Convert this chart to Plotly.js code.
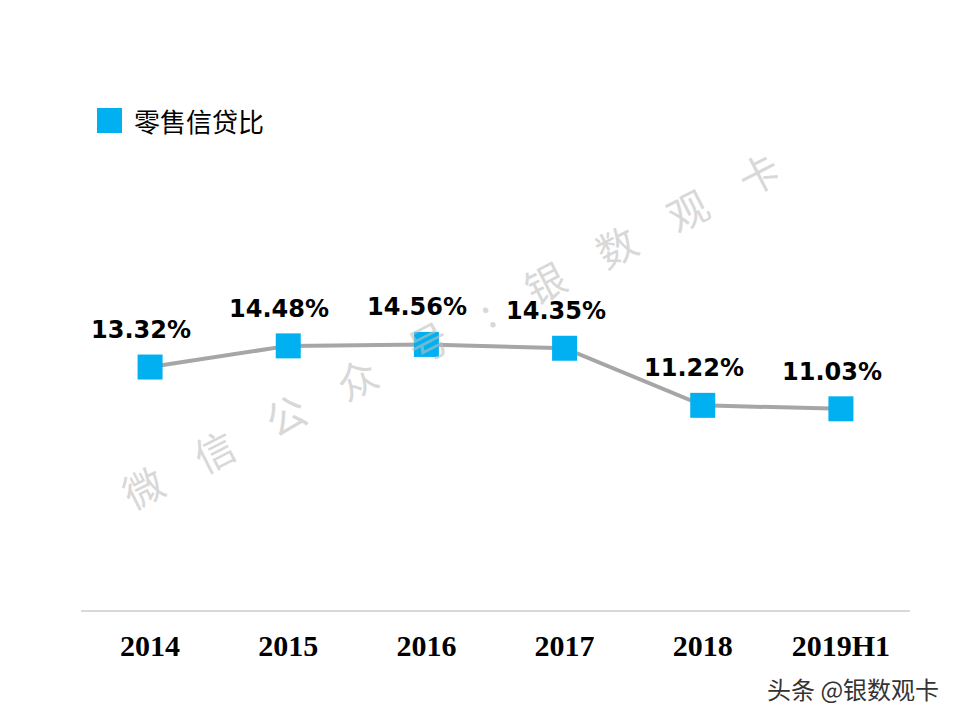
<!DOCTYPE html>
<html>
<head>
<meta charset="utf-8">
<script src="https://cdn.plot.ly/plotly-3.0.1.min.js"></script>
<style>html,body{margin:0;padding:0;background:#fff;}#chart{width:960px;height:720px;}</style>
</head>
<body>
<div id="chart"></div>
<script>
var categories = ['2014', '2015', '2016', '2017', '2018', '2019H1'];
var retailLoanRatio = [13.32, 14.48, 14.56, 14.35, 11.22, 11.03];
var seriesName = '零售信贷比';

var labelFont = {family: '"DejaVu Sans", Verdana, sans-serif', size: 24, color: '#000', weight: 'bold'};

var annotations = categories.map(function (c, i) {
  return {
    x: i, y: retailLoanRatio[i], xref: 'x', yref: 'y',
    text: retailLoanRatio[i].toFixed(2) + '%',
    showarrow: false, yanchor: 'bottom', xanchor: 'center',
    yshift: 21, xshift: -9,
    font: labelFont
  };
});

// watermark
annotations.push({
  x: 450, y: 330, xref: 'paper', yref: 'paper',
  text: '微\u3000信\u3000公\u3000众\u3000号\u3000:\u3000银\u3000数\u3000观\u3000卡',
  showarrow: false, textangle: -27,
  font: {family: '"Noto Sans CJK SC", sans-serif', size: 40, color: 'rgba(190,190,190,0.6)'}
});
// legend text
annotations.push({
  x: 132, y: 121, xref: 'paper', yref: 'paper',
  text: seriesName, showarrow: false, xanchor: 'left', yanchor: 'middle',
  font: {family: '"Noto Sans CJK SC", sans-serif', size: 26, color: '#000'}
});
// source
annotations.push({
  x: 941, y: 688, xref: 'paper', yref: 'paper',
  text: '头条 @银数观卡', showarrow: false, xanchor: 'right', yanchor: 'middle',
  font: {family: '"Noto Sans CJK SC", sans-serif', size: 24, color: '#333'}
});

var W = 960, H = 720;
var m = {l: 81, r: 50, t: 154, b: 110};
annotations.forEach(function (a) {
  if (a.xref === 'paper') {
    a.x = (a.x - m.l) / (W - m.l - m.r);
    a.y = (H - m.b - a.y) / (H - m.t - m.b);
  }
});

var trace = {
  x: categories, y: retailLoanRatio, type: 'scatter', mode: 'lines+markers',
  name: seriesName, showlegend: false,
  line: {color: '#A6A6A6', width: 4},
  marker: {symbol: 'square', size: 25, color: '#00B0F0'},
  hoverinfo: 'x+y'
};

var layout = {
  width: W, height: H, margin: m,
  paper_bgcolor: '#fff', plot_bgcolor: '#fff',
  showlegend: false,
  xaxis: {
    type: 'category', range: [-0.5, 5.5], showgrid: false, zeroline: false,
    showline: true, linecolor: '#D9D9D9', linewidth: 1.5, ticks: '',
    ticklabelstandoff: 8,
    tickfont: {family: '"Liberation Serif", "Times New Roman", serif', size: 30, color: '#000', weight: 'bold'}
  },
  yaxis: {range: [0, 25], visible: false, fixedrange: true},
  shapes: [{
    type: 'rect', xref: 'paper', yref: 'paper',
    x0: (97 - m.l) / (W - m.l - m.r), x1: (122 - m.l) / (W - m.l - m.r),
    y0: (H - m.b - 133) / (H - m.t - m.b), y1: (H - m.b - 108) / (H - m.t - m.b),
    fillcolor: '#00B0F0', line: {width: 0}
  }],
  annotations: annotations
};

Plotly.newPlot('chart', [trace], layout, {displayModeBar: false, staticPlot: true});
</script>
</body>
</html>
